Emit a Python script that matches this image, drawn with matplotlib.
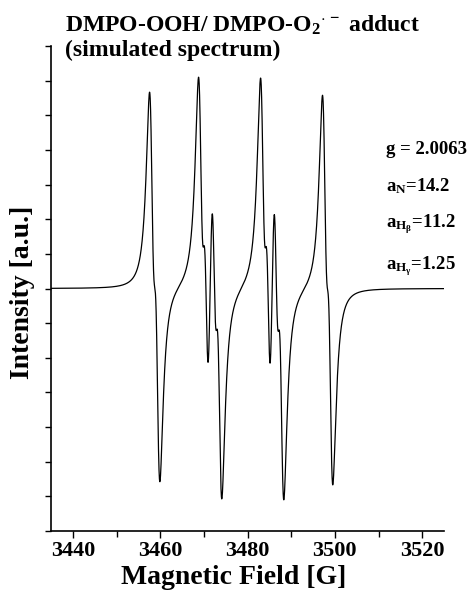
#!/usr/bin/env python3
"""Simulated EPR spectrum of the DMPO-OOH / DMPO-O2- spin adduct."""

import numpy as np
import matplotlib

matplotlib.use("Agg")
import matplotlib.pyplot as plt
from matplotlib.ticker import MultipleLocator, NullFormatter

# simulation parameters (gauss unless noted)
G_FACTOR = 2.0063
FREQ_GHZ = 9.768
A_N = 14.2
A_H_BETA = 11.2
A_H_GAMMA = 1.25
LW_PP = 1.3          # peak-to-peak linewidth
PEAK_HEIGHT = 6.1    # tallest derivative maximum, in plot units
FIELD_RANGE = (3435.0, 3525.0)

X_TICKS = [3440, 3460, 3480, 3500, 3520]

MU_B_GHZ_PER_T = 13.99624

plt.rcParams["font.family"] = "Liberation Serif"
plt.rcParams["font.weight"] = "bold"
plt.rcParams["mathtext.fontset"] = "custom"
plt.rcParams["mathtext.rm"] = "Liberation Serif:bold"
plt.rcParams["mathtext.it"] = "Liberation Serif:bold"
plt.rcParams["mathtext.bf"] = "Liberation Serif:bold"


def line_positions():
    b0 = FREQ_GHZ / (G_FACTOR * MU_B_GHZ_PER_T) * 1e4
    pos = []
    for m_n in (-1, 0, 1):
        for m_b in (-0.5, 0.5):
            for m_g in (-0.5, 0.5):
                pos.append(b0 + A_N * m_n + A_H_BETA * m_b + A_H_GAMMA * m_g)
    return np.array(pos)


def spectrum(field):
    hwhm = LW_PP * np.sqrt(3) / 2
    y = np.zeros_like(field)
    for c in line_positions():
        u = (field - c) / hwhm
        y += -2 * u / (1 + u ** 2) ** 2
    return y / y.max() * PEAK_HEIGHT


def main():
    field = np.linspace(*FIELD_RANGE, 6000)
    y = spectrum(field)

    fig = plt.figure(figsize=(4.72, 5.96), dpi=100)
    ax = fig.add_axes([51 / 472, 1 - 531 / 596, (444 - 51) / 472, (531 - 46) / 596])
    ax.plot(field, y, color="black", linewidth=0.9)

    ax.set_xlim(*FIELD_RANGE)
    ax.set_ylim(-7, 7)
    ax.set_xticks(X_TICKS)
    ax.xaxis.set_minor_locator(MultipleLocator(10))
    ax.yaxis.set_major_locator(MultipleLocator(1))
    ax.yaxis.set_major_formatter(NullFormatter())
    for side in ("top", "right"):
        ax.spines[side].set_visible(False)
    for side in ("left", "bottom"):
        ax.spines[side].set_linewidth(1.2)
    ax.tick_params(axis="x", which="major", direction="out", length=5, width=1, labelsize=16, pad=2)
    ax.tick_params(axis="x", which="minor", direction="out", length=4, width=1)
    ax.tick_params(axis="y", direction="out", length=4, width=1)
    for lbl in ax.get_xticklabels():
        lbl.set_fontweight("bold")

    fig.text(234 / 472, 1 - 578 / 596, "Magnetic Field [G]", ha="center", va="center",
             fontsize=20, fontweight="bold")
    fig.text(23 / 472, 1 - 292 / 596, "Intensity [a.u.]", ha="center", va="center",
             rotation=90, fontsize=20, fontweight="bold")

    fig.text(65 / 472, 1 - 25 / 596, r"DMPO-OOH/ DMPO-O$_2$$^{\cdot\,-}$ adduct",
             ha="left", va="center", fontsize=17, fontweight="bold")
    fig.text(65 / 472, 1 - 50 / 596, "(simulated spectrum)",
             ha="left", va="center", fontsize=17, fontweight="bold")

    notes = [
        (150, f"g = {G_FACTOR:.4f}"),
        (186, f"a$_\\mathrm{{N}}$={A_N:.1f}"),
        (224, f"a$_{{\\mathrm{{H}}_\\beta}}$={A_H_BETA:.1f}"),
        (266, f"a$_{{\\mathrm{{H}}_\\gamma}}$={A_H_GAMMA:.2f}"),
    ]
    for ypix, txt in notes:
        fig.text(386 / 472, 1 - ypix / 596, txt, ha="left", va="center",
                 fontsize=13.5, fontweight="bold")

    fig.savefig("out.png", dpi=100)


if __name__ == "__main__":
    main()
